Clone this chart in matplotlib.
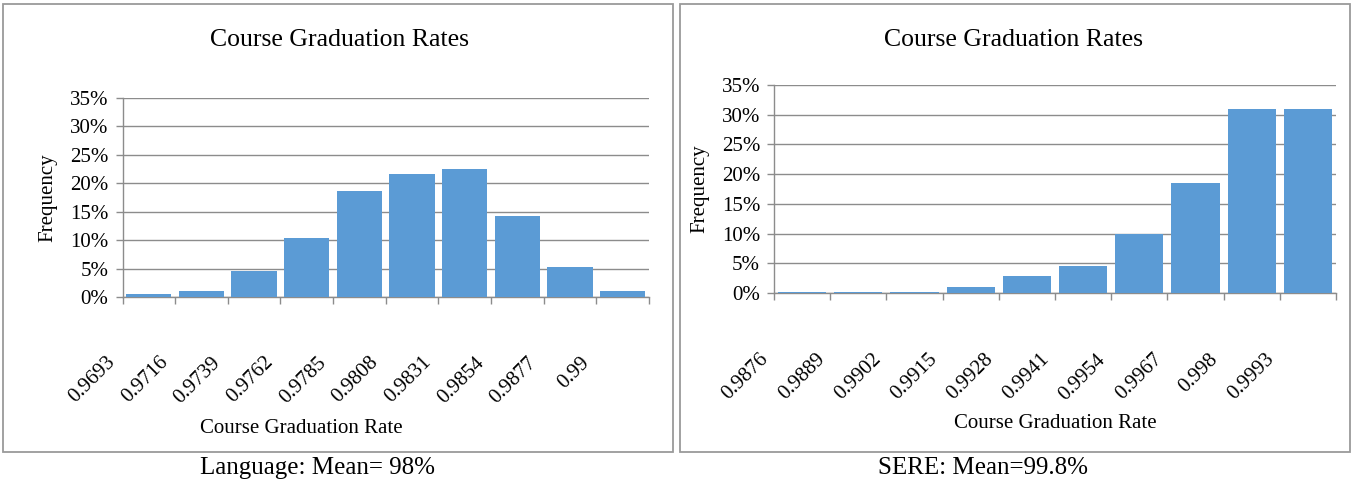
import matplotlib
matplotlib.use('Agg')
import matplotlib.pyplot as plt
import matplotlib.transforms as mtransforms
from matplotlib.patches import Rectangle
from matplotlib.ticker import FuncFormatter

plt.rcParams['font.family'] = ['Liberation Serif', 'DejaVu Serif']

# histogram bins and share of courses in each bin (%)
language_bins = ['0.9693', '0.9716', '0.9739', '0.9762', '0.9785',
                 '0.9808', '0.9831', '0.9854', '0.9877', '0.99']
language_freq = [0.5, 1.0, 4.6, 10.3, 18.6, 21.6, 22.5, 14.2, 5.3, 1.0]

sere_bins = ['0.9876', '0.9889', '0.9902', '0.9915', '0.9928',
             '0.9941', '0.9954', '0.9967', '0.998', '0.9993']
sere_freq = [0.2, 0.2, 0.2, 1.0, 2.8, 4.6, 10.0, 18.5, 30.9, 30.9]

y_ticks = [0, 5, 10, 15, 20, 25, 30, 35]
captions = ['Language: Mean= 98%', 'SERE: Mean=99.8%']

W, H = 1351, 486
bar_color = '#5B9BD5'
grey = '#8C8C8C'

fig = plt.figure(figsize=(W / 100, H / 100), dpi=100)


def px(x, y):
    # pixel position (from top-left) -> figure fraction
    return x / W, 1 - y / H


# panel frames
for x0, x1 in [(3, 673), (680, 1350)]:
    fx, fy = px(x0, 452)
    fig.patches.append(Rectangle((fx, fy), (x1 - x0) / W, 448 / H,
                                 transform=fig.transFigure, fill=False,
                                 edgecolor='#9A9A9A', linewidth=1.3))

panels = [
    # bins, freq, plot box (left, top, right, bottom), title x, xlabel x, ylabel x, caption x
    (language_bins, language_freq, (122.5, 98, 649, 297), 340, 301, 48, 318),
    (sere_bins, sere_freq, (774, 85, 1336, 293), 1014, 1055, 700, 983),
]

for i, (bins, freq, box, tx, xlx, ylx, cx) in enumerate(panels):
    l, t, r, b = box
    fl, fb = px(l, b)
    ax = fig.add_axes([fl, fb, (r - l) / W, (b - t) / H])

    centers = [k + 0.5 for k in range(len(freq))]
    ax.bar(centers, freq, width=0.86, color=bar_color, zorder=3)

    ax.set_xlim(0, len(freq))
    ax.set_ylim(0, 35)
    ax.set_yticks(y_ticks)
    ax.yaxis.set_major_formatter(FuncFormatter(lambda v, _: '%d%%' % v))
    ax.set_xticks(range(len(freq) + 1))
    ax.set_xticklabels([])
    ax.grid(axis='y', color=grey, linewidth=1.0, zorder=0)

    for side in ['top', 'right']:
        ax.spines[side].set_visible(False)
    for side in ['left', 'bottom']:
        ax.spines[side].set_color(grey)
        ax.spines[side].set_linewidth(1.0)
    ax.tick_params(axis='both', color=grey, length=5, width=1.0, direction='out')
    ax.tick_params(axis='y', labelsize=15, pad=5, colors='black')
    ax.tick_params(axis='y', color=grey)

    # rotated bin labels, ends shifted left of the bar centre
    drop = 66 if i == 0 else 67
    lab_trans = (mtransforms.blended_transform_factory(ax.transData, ax.transAxes)
                 + mtransforms.ScaledTranslation(-0.33, -drop / 100, fig.dpi_scale_trans))
    for c, name in zip(centers, bins):
        ax.text(c, 0, name, transform=lab_trans, rotation=45,
                rotation_mode='anchor', ha='right', va='baseline', fontsize=15)

    fx, fy = px(tx, 40)
    fig.text(fx, fy, 'Course Graduation Rates', ha='center', va='center', fontsize=18.5)
    fx, fy = px(xlx, 428 if i == 0 else 423)
    fig.text(fx, fy, 'Course Graduation Rate', ha='center', va='center', fontsize=15)
    fx, fy = px(ylx, (t + b) / 2)
    fig.text(fx, fy, 'Frequency', ha='center', va='center', rotation=90, fontsize=15)
    fx, fy = px(cx, 468)
    fig.text(fx, fy, captions[i], ha='center', va='center', fontsize=18)

fig.savefig('out.png', dpi=100)
